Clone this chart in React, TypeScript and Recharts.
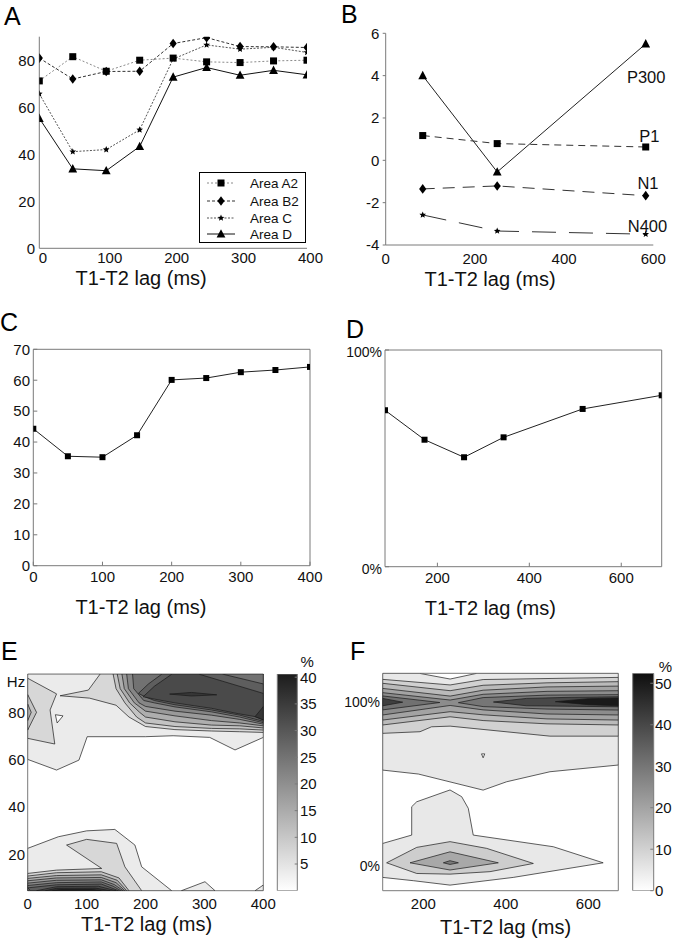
import React from 'react';
import {
  LineChart, Line, XAxis, YAxis, Legend, ReferenceDot, ScatterChart, Scatter, BarChart, Bar, Label,
} from 'recharts';

const FONT = '"Liberation Sans", Arial, Helvetica, sans-serif';
const AXIS = '#7a7a7a';
const INK = '#111';

// ---------- Panel A ----------
const lagA = [0, 50, 100, 150, 200, 250, 300, 350, 400];
const areaA2 = [71.2, 81.5, 75.3, 80, 80.9, 79.3, 79, 79.7, 80];
const areaB2 = [80.9, 72, 75.2, 75.3, 87.1, 89.6, 85.8, 85.7, 85.4];
const areaC = [65.7, 41.1, 42, 50.4, 80.5, 86.5, 84.7, 85.5, 83.3];
const areaD = [55.3, 33.8, 33, 43.3, 72.8, 76.9, 73.6, 75.7, 73.8];
const xTicksA = [0, 100, 200, 300, 400];
const yTicksA = [0, 20, 40, 60, 80];
const legendNamesA = ['Area A2', 'Area B2', 'Area C', 'Area D'];

// ---------- Panel B ----------
const lagB = [83, 250, 583];
const p300 = [4.0, -0.55, 5.5];
const p1 = [1.17, 0.79, 0.63];
const n1 = [-1.35, -1.21, -1.67];
const n400 = [-2.58, -3.34, -3.49];
const xTicksB = [0, 200, 400, 600];
const yTicksB = [-4, -2, 0, 2, 4, 6];
const bNames = ['P300', 'P1', 'N1', 'N400'];
const bNameLag = [584, 591, 588, 587];
const bNameVal = [3.91, 1.16, -1.09, -3.12];

// ---------- Panel C ----------
const lagC = [0, 50, 100, 150, 200, 250, 300, 350, 400];
const rateC = [44.3, 35.4, 35.1, 42.2, 60.1, 60.7, 62.6, 63.3, 64.3];
const xTicksC = [0, 100, 200, 300, 400];
const yTicksC = [0, 10, 20, 30, 40, 50, 60, 70];

// ---------- Panel D ----------
const lagD = [86, 172, 258, 344, 516, 688];
const rateD = [72.2, 58.6, 50.5, 59.7, 72.8, 79.1];
const xTicksD = [200, 400, 600];
const yTicksD = [0, 100];

// ---------- Panel E (contour bands: [lag ms, Hz], band level in %) ----------
type Pt = [number, number];
const E_MAX = 40.6;
const eBarTicks = [5, 10, 15, 20, 25, 30, 35, 40];
const xTicksE = [0, 100, 200, 300, 400];
const yTicksE = [20, 40, 60, 80];

const eTop1: Pt[] = [[0, 96.2], [400, 96.2], [400, 69.4], [352, 64.1], [309, 69.4], [247, 70.1], [200, 69.7], [101, 69.7], [87, 59.8], [49, 55.6], [0, 60.1]];
const eHole: Pt[] = [[47, 79], [60, 78.5], [50, 75.5]];
const eLeft2: Pt[] = [[0, 94.4], [49, 87.8], [38, 81], [46, 66.6], [0, 69]];
const eLeft3: Pt[] = [[0, 87.5], [15, 80], [0, 72.5]];
const eLeft4: Pt[] = [[0, 83.5], [6, 80], [0, 76.5]];
const eTop2: Pt[] = [[123, 96.2], [103, 89.4], [55, 87], [105, 86], [150, 83], [172, 78], [200, 74], [250, 72.7], [312, 72.1], [360, 71.8], [400, 71.5], [400, 96.2]];
const eTop3: Pt[] = [[145, 96.2], [150, 90], [165, 84], [185, 78], [200, 75.5], [250, 74], [312, 73.2], [360, 73], [400, 72.5], [400, 96.2]];
const eTop4: Pt[] = [[152, 96.2], [157, 90], [173, 84], [190, 80], [200, 78], [250, 76], [312, 74.6], [360, 74.3], [400, 73.4], [400, 96.2]];
const eTop5: Pt[] = [[160, 96.2], [164, 90], [181, 84], [200, 80.5], [250, 78.5], [312, 76.5], [360, 75.5], [400, 74.3], [400, 96.2]];
const eTop6: Pt[] = [[168, 96.2], [171, 90], [189, 84], [200, 82.5], [250, 80.5], [312, 78.8], [360, 77], [400, 75], [400, 96.2]];
const eTop7: Pt[] = [[178, 96.2], [180, 90], [197, 85], [215, 84], [250, 82.3], [312, 80.2], [360, 78], [400, 75.6], [400, 96.2]];
const eTop8: Pt[] = [[188, 88], [205, 92], [228, 96.2], [330, 96.2], [400, 92], [400, 76.2], [360, 78.8], [312, 81], [250, 83.2], [215, 85], [200, 86.5]];
const eCore: Pt[] = [[196, 86.6], [215, 91], [245, 96.2], [290, 96.2], [400, 88], [400, 76.8], [386, 78.2], [358, 79.4], [312, 81.7], [250, 84], [215, 85.6]];
const eSliver: Pt[] = [[241, 87.7], [278, 88.4], [321, 87.4], [278, 86.9]];
const eRightCore: Pt[] = [[386, 78.2], [400, 82.4], [400, 76.8]];
const eBot1: Pt[] = [[0, 22.5], [52, 27.4], [100, 29.9], [148, 30.5], [182, 23.9], [193.5, 14.7], [244.4, 4.6], [0, 4.6]];
const eBot1b: Pt[] = [[261, 4.6], [301, 8.4], [318, 4.6]];
const eBot1c: Pt[] = [[386, 4.6], [400, 7], [400, 4.6]];
const eBot2: Pt[] = [[66, 23.9], [100, 26.3], [151, 24.6], [165, 14.7], [193.5, 4.6], [0, 4.6], [0, 11.9], [49, 13.3], [125.6, 14]];
const eBot3: Pt[] = [[0, 10.8], [49, 12.2], [125, 12.6], [155, 10], [172, 4.6], [0, 4.6]];
const eBot4: Pt[] = [[0, 9.8], [49, 11], [125, 11.3], [152, 9], [168, 4.6], [0, 4.6]];
const eBot5: Pt[] = [[0, 8.8], [49, 10], [125, 10.2], [150, 8], [165, 4.6], [0, 4.6]];
const eBot6: Pt[] = [[0, 7.8], [49, 9], [125, 9.2], [147, 7.2], [162, 4.6], [0, 4.6]];
const eBot7: Pt[] = [[0, 6.8], [49, 8], [125, 8.3], [145, 6.5], [158, 4.6], [0, 4.6]];
const eBot8: Pt[] = [[0, 5.8], [49, 7.1], [125, 7.4], [142, 5.8], [154, 4.6], [5, 4.6]];
const eBot9: Pt[] = [[15, 4.6], [49, 6.3], [120, 6.5], [140, 5.2], [150, 4.6]];
const eBot10: Pt[] = [[30, 4.6], [49, 5.6], [115, 5.7], [140, 4.6]];
const eBot11: Pt[] = [[42, 4.6], [55, 5.1], [110, 5.1], [125, 4.6]];

const eContours: { pts: Pt[]; pct: number }[] = [
  { pts: eTop1, pct: 3.6 }, { pts: eHole, pct: 0 },
  { pts: eLeft2, pct: 7.2 }, { pts: eLeft3, pct: 10.8 }, { pts: eLeft4, pct: 14.4 },
  { pts: eTop2, pct: 7.2 }, { pts: eTop3, pct: 10.8 }, { pts: eTop4, pct: 14.4 },
  { pts: eTop5, pct: 18 }, { pts: eTop6, pct: 21.6 }, { pts: eTop7, pct: 25.2 },
  { pts: eTop8, pct: 28.8 }, { pts: eCore, pct: 32.4 }, { pts: eSliver, pct: 36 }, { pts: eRightCore, pct: 36 },
  { pts: eBot1, pct: 3.6 }, { pts: eBot1b, pct: 3.6 }, { pts: eBot1c, pct: 3.6 },
  { pts: eBot2, pct: 7.2 }, { pts: eBot3, pct: 10.8 }, { pts: eBot4, pct: 14.4 }, { pts: eBot5, pct: 18 },
  { pts: eBot6, pct: 21.6 }, { pts: eBot7, pct: 25.2 }, { pts: eBot8, pct: 28.8 }, { pts: eBot9, pct: 32.4 },
  { pts: eBot10, pct: 36 }, { pts: eBot11, pct: 39.6 },
];

// ---------- Panel F ----------
const F_MAX = 52.4;
const fBarTicks = [0, 10, 20, 30, 40, 50];
const xTicksF = [200, 400, 600];
const yTicksF = [0, 100];

const fTop1: Pt[] = [[101.5, 117.3], [190, 117.3], [265, 113.8], [330, 117.3], [672.7, 117.3], [672.7, 61.4], [507, 57.3], [402, 51.2], [345, 46.1], [188, 55.9], [101.5, 58.3]];
const fHole: Pt[] = [[341, 68.2], [349, 68.2], [345, 65.8]];
const fTop2: Pt[] = [[101.5, 113.6], [265, 110.2], [345, 113.5], [672.7, 114.8], [672.7, 79], [507, 79], [265, 85.1], [220, 84.7], [192, 81.7], [101.5, 80.7]];
const fTop3: Pt[] = [[101.5, 111.2], [265, 106.7], [345, 110], [500, 111.5], [672.7, 112.2], [672.7, 85.8], [500, 86.5], [345, 88.5], [265, 90.8], [101.5, 85.8]];
const fTop4: Pt[] = [[101.5, 108.1], [265, 103.4], [345, 107], [500, 109], [672.7, 109.5], [672.7, 88.8], [500, 89.5], [345, 92], [265, 93.9], [101.5, 88.8]];
const fTop5: Pt[] = [[101.5, 105.5], [265, 101], [345, 104.5], [500, 106.3], [672.7, 106.7], [672.7, 91.9], [500, 92.5], [345, 95], [265, 97.7], [101.5, 91.9]];
const fTop6L: Pt[] = [[101.5, 103.5], [240, 99.5], [101.5, 95]];
const fTop6R: Pt[] = [[285, 99.4], [345, 102.5], [500, 104], [672.7, 104.3], [672.7, 94.9], [500, 95.5], [345, 97]];
const fTop7L: Pt[] = [[101.5, 102], [150, 99.7], [101.5, 97.5]];
const fTop7R: Pt[] = [[370, 99.8], [450, 102], [560, 102.7], [672.7, 103], [672.7, 96.9], [560, 97.2], [450, 97.5]];
const fTop8R: Pt[] = [[520, 100], [600, 101.8], [672.7, 102.2], [672.7, 97.5], [600, 98.2]];
const fBot1: Pt[] = [[101.5, 13.6], [171.8, 18.7], [171.8, 36], [184, 39], [264.7, 46.2], [293, 42.1], [309, 35], [321, 18.7], [515, 11.6], [636, 1.8], [418, -7.1], [264.7, -11.8], [175.8, -9.1], [101.5, -7.1]];
const fBot2: Pt[] = [[111, 1.8], [184, 11.2], [264.7, 14.7], [353.6, 10.6], [466.7, 1.4], [361.6, -3.6], [264.7, -5.1], [184, -4.7]];
const fBot3: Pt[] = [[167.7, 1.8], [264.7, 8.5], [381.8, 1.8], [264.7, -2.6]];
const fBot4: Pt[] = [[248.5, 1.8], [264.7, 3.1], [285, 1.8], [264.7, 0.8]];

const fContours: { pts: Pt[]; pct: number }[] = [
  { pts: fTop1, pct: 5 }, { pts: fHole, pct: 0 }, { pts: fTop2, pct: 10 }, { pts: fTop3, pct: 15 },
  { pts: fTop4, pct: 20 }, { pts: fTop5, pct: 25 }, { pts: fTop6L, pct: 31 }, { pts: fTop6R, pct: 30 },
  { pts: fTop7L, pct: 42 }, { pts: fTop7R, pct: 40 }, { pts: fTop8R, pct: 50 },
  { pts: fBot1, pct: 5 }, { pts: fBot2, pct: 11 }, { pts: fBot3, pct: 19 }, { pts: fBot4, pct: 29 },
];

// ---------- helpers ----------
const hex = (g: number) => {
  const h = Math.max(0, Math.min(255, Math.round(g))).toString(16).padStart(2, '0');
  return `#${h}${h}${h}`;
};
const grayE = (v: number) => hex(255 - (255 - 28) * (v / E_MAX));
const grayF = (v: number) => hex(255 - (255 - 15) * (v / F_MAX));
const toPts = (poly: Pt[]) => poly.map(([x, y]) => ({ x, y }));

const polygonLine = (fill: string) => (lp: any) => {
  const pts = (lp && lp.points) || [];
  const d = pts.length
    ? pts.map((p: any, i: number) => `${i ? 'L' : 'M'}${p.x},${p.y}`).join(' ') + ' Z'
    : 'M0,0';
  return <path d={d} fill={fill} stroke="#1a1a1a" strokeWidth={0.7} strokeLinejoin="round" />;
};
const noShape = () => <g />;

const tickStyle = { fill: INK, fontSize: 15, fontFamily: FONT };
const tickStyleA = { fill: INK, fontSize: 15, fontFamily: FONT, dx: 3.5 };
const tickStyleSmall = { fill: INK, fontSize: 14, fontFamily: FONT };
const tickStyleD = { fill: INK, fontSize: 14, fontFamily: FONT, dy: 2 };
const axisLabelStyle = { fill: INK, fontSize: 20, fontFamily: FONT };

const starPoints = (cx: number, cy: number, r: number) => {
  const pts: string[] = [];
  for (let i = 0; i < 10; i++) {
    const rr = i % 2 === 0 ? r : r * 0.45;
    const a = -Math.PI / 2 + (i * Math.PI) / 5;
    pts.push(`${cx + rr * Math.cos(a)},${cy + rr * Math.sin(a)}`);
  }
  return pts.join(' ');
};

const drawMarker = (kind: string, cx: number, cy: number, s: number, key?: any) => {
  if (cx == null || cy == null || isNaN(cx) || isNaN(cy)) return <g key={key} />;
  if (kind === 'square') return <rect key={key} x={cx - s / 2} y={cy - s / 2} width={s} height={s} fill="#000" />;
  if (kind === 'diamond')
    return <polygon key={key} points={`${cx},${cy - s * 0.6} ${cx + s * 0.45},${cy} ${cx},${cy + s * 0.6} ${cx - s * 0.45},${cy}`} fill="#000" />;
  if (kind === 'triangle')
    return <polygon key={key} points={`${cx},${cy - s * 0.6} ${cx + s * 0.55},${cy + s * 0.45} ${cx - s * 0.55},${cy + s * 0.45}`} fill="#000" />;
  return <polygon key={key} points={starPoints(cx, cy, s / 2)} fill="#000" />;
};
const dotFn = (kind: string, s: number) => (p: any) => drawMarker(kind, p.cx, p.cy, s, p.key ?? p.index);

const seriesStyleA = [
  { key: 'a2', kind: 'square', stroke: '#8a8a8a', dash: '2 2', size: 7 },
  { key: 'b2', kind: 'diamond', stroke: '#333', dash: '3 2', size: 8 },
  { key: 'c', kind: 'star', stroke: '#555', dash: '2 1.5', size: 7 },
  { key: 'd', kind: 'triangle', stroke: '#111', dash: undefined as string | undefined, size: 8 },
];

const dataA = lagA.map((x, i) => ({ x, a2: areaA2[i], b2: areaB2[i], c: areaC[i], d: areaD[i] }));
const dataB = lagB.map((x, i) => ({ x, p300: p300[i], p1: p1[i], n1: n1[i], n400: n400[i] }));
const dataC = lagC.map((x, i) => ({ x, v: rateC[i] }));
const dataD = lagD.map((x, i) => ({ x, v: rateD[i] }));

const LegendA = () => {
  const rowY = [11, 29, 46, 62];
  return (
    <svg width={108} height={72} style={{ display: 'block' }}>
      <rect x={0.5} y={0.5} width={106} height={70} fill="#fff" stroke="#000" strokeWidth={1} />
      {seriesStyleA.map((s, i) => (
        <g key={s.key}>
          <line x1={8} x2={36} y1={rowY[i]} y2={rowY[i]} stroke={s.stroke} strokeDasharray={s.dash} strokeWidth={1} />
          {drawMarker(s.kind, 22, rowY[i], s.size)}
          <text x={51} y={rowY[i] + 4.8} fontSize={13.5} fontFamily={FONT} fill={INK}>{legendNamesA[i]}</text>
        </g>
      ))}
    </svg>
  );
};

// panel letters: with a 18px line-height the cap top sits ~0.2px above the box top
const letterStyle = (left: number, capTop: number): React.CSSProperties => ({
  position: 'absolute', left, top: capTop + 0.2, fontFamily: FONT, fontSize: 25, lineHeight: '18px', height: 18, color: '#000',
});

const abs = (left: number, top: number, width: number, height: number): React.CSSProperties => ({
  position: 'absolute', left, top, width, height,
});

export default function App() {
  return (
    <div style={{ position: 'absolute', left: 0, top: 0, width: 678, height: 940, background: '#fff', overflow: 'hidden' }}>
      {/* Panel A */}
      <div style={abs(0, 0, 340, 300)}>
        <LineChart width={340} height={300} data={dataA} margin={{ top: 36.7, right: 33, bottom: 11.7, left: 0 }}>
          <XAxis type="number" dataKey="x" domain={[0, 400]} ticks={xTicksA} allowDataOverflow stroke={AXIS}
            tickLine={false} tickSize={0} tickMargin={4.3} height={40} tick={tickStyleA}>
            <Label value="T1-T2 lag (ms)" position="insideBottom" offset={3.3} dx={-32} style={axisLabelStyle} />
          </XAxis>
          <YAxis type="number" domain={[0, 90]} ticks={yTicksA} allowDataOverflow stroke={AXIS}
            tickLine={false} tickSize={0} tickMargin={4.3} width={39.3} tick={tickStyle} />
          {seriesStyleA.map((s) => (
            <Line key={s.key} type="linear" dataKey={s.key} stroke={s.stroke} strokeWidth={1} strokeDasharray={s.dash}
              dot={dotFn(s.kind, s.size)} activeDot={false} isAnimationActive={false} />
          ))}
          <Legend layout="vertical" align="center" verticalAlign="middle" content={() => <LegendA />}
            wrapperStyle={{ left: 199, top: 172, width: 108, height: 72 }} />
        </LineChart>
      </div>
      <div style={letterStyle(4, 7)}>A</div>

      {/* Panel B */}
      <div style={abs(340, 0, 338, 300)}>
        <LineChart width={338} height={300} data={dataB} margin={{ top: 33.3, right: 24.7, bottom: 15, left: 0 }}>
          <XAxis type="number" dataKey="x" domain={[0, 600]} ticks={xTicksB} allowDataOverflow stroke={AXIS}
            tickLine={false} tickSize={0} tickMargin={7.9} height={40} tick={tickStyle}>
            <Label value="T1-T2 lag (ms)" position="insideBottom" offset={-0.5} dx={-29.5} style={axisLabelStyle} />
          </XAxis>
          <YAxis type="number" domain={[-4, 6]} ticks={yTicksB} allowDataOverflow stroke={AXIS}
            tickSize={3} tickMargin={3.4} width={45.7} tick={tickStyle} />
          <Line type="linear" dataKey="p300" stroke="#222" strokeWidth={1} dot={dotFn('triangle', 8)} activeDot={false} isAnimationActive={false} />
          <Line type="linear" dataKey="p1" stroke="#333" strokeWidth={1} strokeDasharray="7 5" dot={dotFn('square', 7)} activeDot={false} isAnimationActive={false} />
          <Line type="linear" dataKey="n1" stroke="#333" strokeWidth={1} strokeDasharray="12 8" dot={dotFn('diamond', 8)} activeDot={false} isAnimationActive={false} />
          <Line type="linear" dataKey="n400" stroke="#333" strokeWidth={1} strokeDasharray="24 13" dot={dotFn('star', 7)} activeDot={false} isAnimationActive={false} />
          {bNames.map((name, i) => (
            <ReferenceDot key={name} x={bNameLag[i]} y={bNameVal[i]} r={0} fill="none" stroke="none"
              label={{ value: name, position: 'center', fill: INK, fontSize: 16.5, fontFamily: FONT }} />
          ))}
        </LineChart>
      </div>
      <div style={letterStyle(341, 5)}>B</div>

      {/* Panel C */}
      <div style={abs(0, 300, 340, 320)}>
        <LineChart width={340} height={320} data={dataC} margin={{ top: 39.3, right: 20, bottom: 4.3, left: 0 }}>
          <XAxis type="number" dataKey="x" domain={[0, 400]} ticks={xTicksC} allowDataOverflow stroke={AXIS}
            tickSize={-4} tickMargin={9.6} height={50} tick={tickStyle}>
            <Label value="T1-T2 lag (ms)" position="insideBottom" offset={1.7} dx={-30.7} style={axisLabelStyle} />
          </XAxis>
          <XAxis xAxisId="top" orientation="top" type="number" domain={[0, 400]} ticks={xTicksC} allowDataOverflow
            stroke={AXIS} tickSize={-4} tick={false} height={10} />
          <YAxis type="number" domain={[0, 70]} ticks={yTicksC} allowDataOverflow stroke={AXIS}
            tickSize={-4} tickMargin={7.3} width={33.3} tick={tickStyle} />
          <YAxis yAxisId="right" orientation="right" type="number" domain={[0, 70]} ticks={yTicksC} allowDataOverflow
            stroke={AXIS} tickSize={-4} tick={false} width={10} />
          <Line type="linear" dataKey="v" stroke="#222" strokeWidth={1} dot={dotFn('square', 6)} activeDot={false} isAnimationActive={false} />
        </LineChart>
      </div>
      <div style={letterStyle(0, 312.5)}>C</div>

      {/* Panel D */}
      <div style={abs(340, 300, 338, 320)}>
        <LineChart width={338} height={320} data={dataD} margin={{ top: 40, right: 6.3, bottom: 3.3, left: 0 }}>
          <XAxis type="number" dataKey="x" domain={[86, 688]} ticks={xTicksD} allowDataOverflow stroke={AXIS}
            tickSize={-4} tickMargin={9.6} height={50} tick={tickStyle}>
            <Label value="T1-T2 lag (ms)" position="insideBottom" offset={1.7} dx={-33} style={axisLabelStyle} />
          </XAxis>
          <XAxis xAxisId="top" orientation="top" type="number" domain={[86, 688]} ticks={xTicksD} allowDataOverflow
            stroke={AXIS} tickSize={-4} tick={false} height={10} />
          <YAxis type="number" domain={[0, 100]} ticks={yTicksD} allowDataOverflow stroke={AXIS}
            tickSize={-4} tickMargin={7} width={45} tick={tickStyleD} tickFormatter={(v: number) => `${v}%`} />
          <YAxis yAxisId="right" orientation="right" type="number" domain={[0, 100]} ticks={yTicksD} allowDataOverflow
            stroke={AXIS} tickSize={-4} tick={false} width={10} />
          <Line type="linear" dataKey="v" stroke="#222" strokeWidth={1} dot={dotFn('square', 6)} activeDot={false} isAnimationActive={false} />
        </LineChart>
      </div>
      <div style={letterStyle(346, 320)}>D</div>

      {/* Panel E */}
      <div style={abs(0, 620, 340, 320)}>
        <ScatterChart width={340} height={320} margin={{ top: 44, right: 66.7, bottom: 4.3, left: 0 }}>
          <XAxis type="number" dataKey="x" domain={[0, 400]} ticks={xTicksE} allowDataOverflow stroke={AXIS}
            tickLine={false} tickSize={0} tickMargin={7.2} height={45} tick={tickStyle}>
            <Label value="T1-T2 lag (ms)" position="insideBottom" offset={4.7} dx={1} style={axisLabelStyle} />
          </XAxis>
          <XAxis xAxisId="top" orientation="top" type="number" domain={[0, 400]} allowDataOverflow
            stroke={AXIS} tickLine={false} tick={false} height={10} />
          <YAxis type="number" dataKey="y" domain={[4.6, 96.2]} ticks={yTicksE} allowDataOverflow stroke={AXIS}
            tickLine={false} tickSize={0} tickMargin={2.7} width={27.7} tick={tickStyle}>
            <Label value="Hz" position="insideTopRight" offset={2.5} style={{ fill: INK, fontSize: 15, fontFamily: FONT }} />
          </YAxis>
          <YAxis yAxisId="right" orientation="right" type="number" domain={[4.6, 96.2]} allowDataOverflow
            stroke={AXIS} tickLine={false} tick={false} width={10} />
          {eContours.map((c, i) => (
            <Scatter key={`e${i}`} data={toPts(c.pts)} line={polygonLine(grayE(c.pct))} shape={noShape}
              isAnimationActive={false} legendType="none" />
          ))}
        </ScatterChart>
      </div>
      <div style={abs(260, 620, 80, 320)}>
        <BarChart width={80} height={320} data={[{ k: 'c', v: E_MAX }]} margin={{ top: 54, right: 17.3, bottom: 49.3, left: 7.3 }}
          barCategoryGap={0} barGap={0}>
          <defs>
            <linearGradient id="cbE" x1="0" y1="1" x2="0" y2="0">
              <stop offset="0" stopColor={grayE(0)} />
              <stop offset="1" stopColor={grayE(E_MAX)} />
            </linearGradient>
          </defs>
          <XAxis dataKey="k" hide />
          <YAxis yAxisId="l" orientation="left" type="number" width={10} domain={[0, E_MAX]} ticks={eBarTicks}
            allowDataOverflow tick={false} tickSize={-3} axisLine={false} stroke={AXIS} />
          <YAxis orientation="right" type="number" width={25} domain={[0, E_MAX]} ticks={eBarTicks} allowDataOverflow
            tickSize={-3} tickMargin={5.3} axisLine={false} stroke={AXIS} tick={tickStyle}>
            <Label value="%" position="top" offset={7.3} dx={-3} style={{ fill: INK, fontSize: 15, fontFamily: FONT }} />
          </YAxis>
          <Bar dataKey="v" fill="url(#cbE)" stroke={AXIS} strokeWidth={1} isAnimationActive={false} />
        </BarChart>
      </div>
      <div style={letterStyle(1, 641.7)}>E</div>

      {/* Panel F */}
      <div style={abs(340, 620, 338, 320)}>
        <ScatterChart width={338} height={320} margin={{ top: 43.3, right: 49.7, bottom: 4.3, left: 0 }}>
          <XAxis type="number" dataKey="x" domain={[101.5, 672.7]} ticks={xTicksF} allowDataOverflow stroke={AXIS}
            tickLine={false} tickSize={0} tickMargin={7.2} height={45} tick={tickStyle}>
            <Label value="T1-T2 lag (ms)" position="insideBottom" offset={1.7} dx={5} style={axisLabelStyle} />
          </XAxis>
          <XAxis xAxisId="top" orientation="top" type="number" domain={[101.5, 672.7]} allowDataOverflow
            stroke={AXIS} tickLine={false} tick={false} height={10} />
          <YAxis type="number" dataKey="y" domain={[-15.2, 117.3]} ticks={yTicksF} allowDataOverflow stroke={AXIS}
            tickLine={false} tickSize={0} tickMargin={2.7} width={42.7} tick={tickStyleSmall} tickFormatter={(v: number) => `${v}%`} />
          <YAxis yAxisId="right" orientation="right" type="number" domain={[-15.2, 117.3]} allowDataOverflow
            stroke={AXIS} tickLine={false} tick={false} width={10} />
          {fContours.map((c, i) => (
            <Scatter key={`f${i}`} data={toPts(c.pts)} line={polygonLine(grayF(c.pct))} shape={noShape}
              isAnimationActive={false} legendType="none" />
          ))}
        </ScatterChart>
      </div>
      <div style={abs(610, 620, 68, 320)}>
        <BarChart width={68} height={320} data={[{ k: 'c', v: F_MAX }]} margin={{ top: 53.3, right: 0.7, bottom: 49.3, left: 12.7 }}
          barCategoryGap={0} barGap={0}>
          <defs>
            <linearGradient id="cbF" x1="0" y1="1" x2="0" y2="0">
              <stop offset="0" stopColor={grayF(0)} />
              <stop offset="1" stopColor={grayF(F_MAX)} />
            </linearGradient>
          </defs>
          <XAxis dataKey="k" hide />
          <YAxis yAxisId="l" orientation="left" type="number" width={10} domain={[0, F_MAX]} ticks={fBarTicks}
            allowDataOverflow tick={false} tickSize={-3} axisLine={false} stroke={AXIS} />
          <YAxis orientation="right" type="number" width={24} domain={[0, F_MAX]} ticks={fBarTicks} allowDataOverflow
            tickSize={-3} tickMargin={4.7} axisLine={false} stroke={AXIS} tick={tickStyle}>
            <Label value="%" position="top" offset={1.6} style={{ fill: INK, fontSize: 15, fontFamily: FONT }} />
          </YAxis>
          <Bar dataKey="v" fill="url(#cbF)" stroke={AXIS} strokeWidth={1} isAnimationActive={false} />
        </BarChart>
      </div>
      <div style={letterStyle(350, 641.7)}>F</div>
    </div>
  );
}
